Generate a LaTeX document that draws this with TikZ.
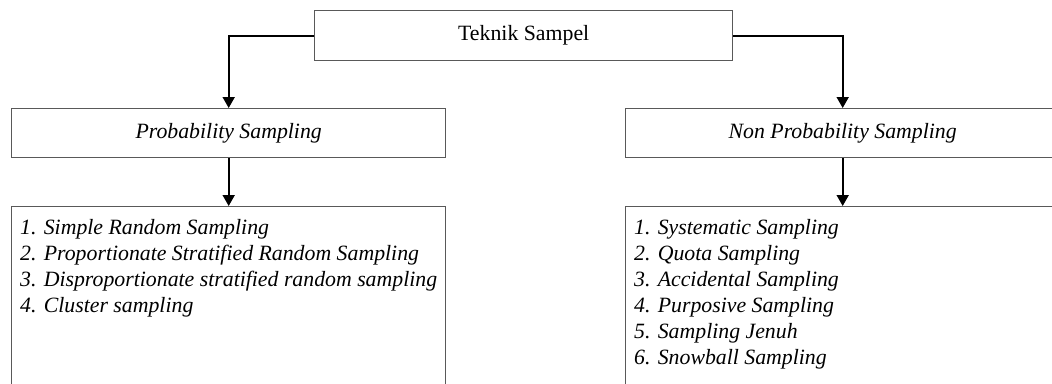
\documentclass[tikz,border=0pt]{standalone}
\usepackage{fontspec}
\setmainfont{Liberation Serif}
\usetikzlibrary{arrows.meta}
\begin{document}
\begin{tikzpicture}[
  x=1pt, y=-1pt,
  box/.style={draw=black!65, line width=1.4pt, fill=white, inner sep=0pt},
  link/.style={draw=black, line width=1.8pt, -{Triangle[width=12pt,length=11pt]}},
  every node/.append style={font=\fontsize{21.8}{26}\selectfont}
]
\useasboundingbox (0,0) rectangle (1052,383);
\clip (0,0) rectangle (1052,383);

% root
\node[box, anchor=north west, minimum width=418pt, minimum height=50pt] (root) at (314,10) {Teknik Sampel};

% two branches
\node[box, anchor=north west, minimum width=434pt, minimum height=49pt] (prob) at (11,108) {\itshape Probability Sampling};
\node[box, anchor=north west, minimum width=434pt, minimum height=49pt] (nonprob) at (625,108) {\itshape Non Probability Sampling};

% lists of techniques
\node[box, anchor=north west, inner xsep=8.5pt, inner ysep=13pt] (problist) at (11,206)
  {\parbox[t][190pt][t]{417pt}{\itshape
    1. Simple Random Sampling\\
    2. Proportionate Stratified Random Sampling\\
    3. Disproportionate stratified random sampling\\
    4. Cluster sampling}};
\node[box, anchor=north west, inner xsep=8.5pt, inner ysep=13pt] (nonproblist) at (625,206)
  {\parbox[t][190pt][t]{417pt}{\itshape
    1. Systematic Sampling\\
    2. Quota Sampling\\
    3. Accidental Sampling\\
    4. Purposive Sampling\\
    5. Sampling Jenuh\\
    6. Snowball Sampling}};

% connectors
\draw[link] (root.west) -| (prob.north);
\draw[link] (root.east) -| (nonprob.north);
\draw[link] (prob.south) -- (problist.north);
\draw[link] (nonprob.south) -- (nonproblist.north);
\end{tikzpicture}
\end{document}
